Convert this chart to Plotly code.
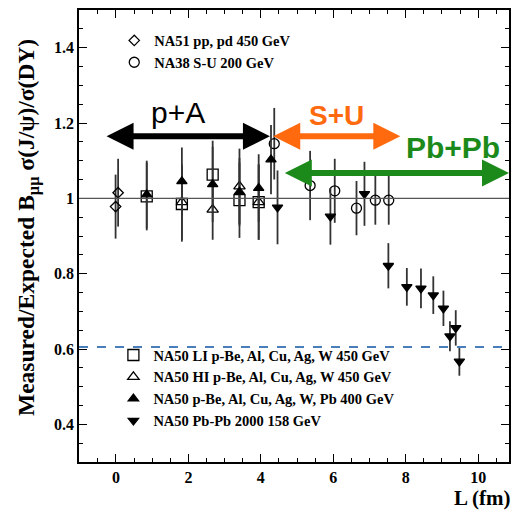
import plotly.graph_objects as go

# ---------------- data ----------------
na51_L = [-0.01, 0.06]
na51_R = [0.978, 1.015]
na51_E = [0.085, 0.09]

na38_L = [4.37, 5.36, 6.04, 6.64, 7.16, 7.53]
na38_R = [1.145, 1.034, 1.02, 0.974, 0.995, 0.995]
na38_E = [0.095, 0.092, 0.085, 0.072, 0.065, 0.065]

li_L = [0.85, 1.82, 2.67, 3.41, 3.94]
li_R = [1.005, 0.985, 1.063, 0.995, 0.99]
li_E = [0.09, 0.10, 0.09, 0.10, 0.10]

hi_L = [1.82, 2.67, 3.41, 3.94]
hi_R = [0.99, 0.97, 1.032, 0.99]
hi_E = [0.10, 0.08, 0.10, 0.10]

pa_L = [0.85, 1.82, 2.67, 3.41, 3.94, 4.28]
pa_R = [1.01, 1.045, 1.037, 1.017, 1.027, 1.103]
pa_E = [0.09, 0.09, 0.10, 0.09, 0.09, 0.092]

pb_L = [4.46, 5.92, 6.86, 7.52, 8.03, 8.42, 8.76, 9.04, 9.22, 9.38, 9.48]
pb_R = [0.976, 0.952, 1.012, 0.821, 0.765, 0.761, 0.743, 0.708, 0.634, 0.656, 0.567]
pb_E = [0.098, 0.075, 0.085, 0.06, 0.05, 0.053, 0.05, 0.047, 0.04, 0.047, 0.038]

dash_level = 0.605

series_top = [
    ("NA51 pp, pd 450 GeV", na51_L, na51_R, na51_E, "diamond-open", 8),
    ("NA38 S-U 200 GeV", na38_L, na38_R, na38_E, "circle-open", 10),
]
series_bot = [
    ("NA50 LI p-Be, Al, Cu, Ag, W 450 GeV", li_L, li_R, li_E, "square-open", 11),
    ("NA50 HI p-Be, Al, Cu, Ag, W 450 GeV", hi_L, hi_R, hi_E, "triangle-up-open", 10),
    ("NA50 p-Be, Al, Cu, Ag, W, Pb 400 GeV", pa_L, pa_R, pa_E, "triangle-up", 9),
    ("NA50 Pb-Pb 2000 158 GeV", pb_L, pb_R, pb_E, "triangle-down", 9),
]

SERIF = "Liberation Serif"
fig = go.Figure()

for lg, group in (("legend", series_top), ("legend2", series_bot)):
    for name, xs, ys, es, sym, sz in group:
        fig.add_trace(go.Scatter(
            x=xs, y=ys, mode="markers", name=name, legend=lg,
            error_y=dict(type="data", array=es, visible=True, color="#333333",
                         thickness=1.8, width=0),
            marker=dict(symbol=sym, size=sz, color="black",
                        line=dict(color="black", width=1.3)),
        ))

# reference lines
fig.add_hline(y=1.0, line=dict(color="#555555", width=1.3))
fig.add_hline(y=dash_level, line=dict(color="#4a7ebb", width=2, dash="dash"))

# double arrows
def darrow(x0, x1, y, color, w, size):
    fig.add_annotation(x=x1, y=y, ax=x0, ay=y, xref="x", yref="y",
                       axref="x", ayref="y", text="", showarrow=True,
                       arrowhead=2, arrowside="end+start", arrowsize=size,
                       arrowwidth=w, arrowcolor=color)

ORANGE = "#FF6A0F"
GREEN = "#1B8A1B"
darrow(-0.3, 4.25, 1.165, "black", 6, 0.9)
darrow(4.3, 7.85, 1.165, ORANGE, 6, 0.9)
darrow(4.62, 10.85, 1.067, GREEN, 6, 0.9)

fig.add_annotation(x=1.72, y=1.227, text="p+A", showarrow=False,
                   font=dict(family="Liberation Sans", size=30, color="black"))
fig.add_annotation(x=6.1, y=1.219, text="<b>S+U</b>", showarrow=False,
                   font=dict(family="Liberation Sans", size=28, color=ORANGE))
fig.add_annotation(x=9.3, y=1.135, text="<b>Pb+Pb</b>", showarrow=False,
                   font=dict(family="Liberation Sans", size=30, color=GREEN))

fig.add_annotation(x=1.0, y=-0.08, xref="paper", yref="paper", xanchor="right",
                   yanchor="middle", xshift=4, text="<b>L (fm)</b>", showarrow=False,
                   font=dict(family=SERIF, size=21, color="black"))

# y-axis title as a rotated annotation (placed to match the reference)
fig.add_annotation(x=0, y=0.5, xref="paper", yref="paper", xanchor="center",
                   yanchor="middle", xshift=-51, yshift=8, textangle=-90,
                   text="<b>Measured/Expected B<sub>μμ</sub> σ(J/ψ)/σ(DY)</b>",
                   showarrow=False, font=dict(family=SERIF, size=23.5, color="black"))

axis_common = dict(showline=True, linecolor="black", linewidth=1.5, mirror="ticks",
                   ticks="inside", ticklen=8, tickwidth=1.3, tickcolor="black",
                   showgrid=False, zeroline=False,
                   tickfont=dict(family=SERIF, size=16, color="black", weight="bold"))

fig.update_xaxes(range=[-1.02, 10.85], dtick=2, tick0=0,
                 minor=dict(ticks="inside", ticklen=4, dtick=0.5, tick0=0,
                            tickcolor="black", tickwidth=1.1),
                 **axis_common)
fig.update_yaxes(range=[0.3, 1.5], dtick=0.2, tick0=0.4,
                 minor=dict(ticks="inside", ticklen=4, dtick=0.05, tick0=0.4,
                            tickcolor="black", tickwidth=1.1),
                 **axis_common)

legfont = dict(family=SERIF, size=14.5, color="black", weight="bold")
fig.update_layout(
    width=512, height=514,
    margin=dict(l=79, r=1, t=10, b=52),
    plot_bgcolor="white", paper_bgcolor="white",
    legend=dict(x=0.082, y=0.968, xanchor="left", yanchor="top",
                bgcolor="rgba(0,0,0,0)", font=legfont, tracegroupgap=0,
                itemsizing="trace"),
    legend2=dict(x=0.08, y=0.272, xanchor="left", yanchor="top",
                 bgcolor="rgba(0,0,0,0)", font=legfont, tracegroupgap=0,
                 itemsizing="trace"),
    showlegend=True,
)

fig.write_html("out.html")
